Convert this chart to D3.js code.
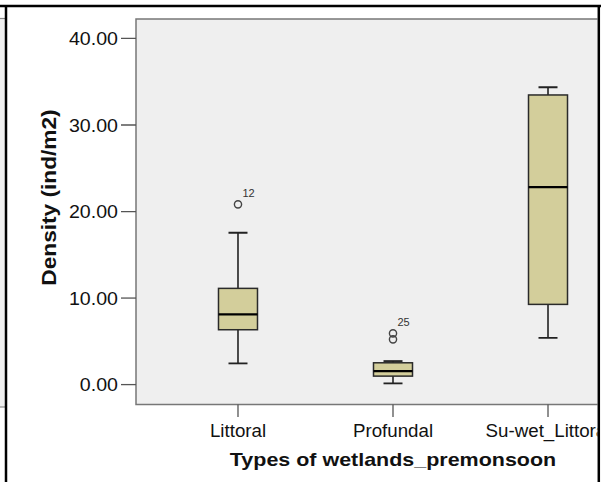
<!DOCTYPE html>
<html>
<head>
<meta charset="utf-8">
<script src="https://cdn.jsdelivr.net/npm/d3@7"></script>
<style>
  html, body { margin: 0; padding: 0; background: #fff; }
  svg { display: block; }
  text { font-family: "Liberation Sans", Arial, sans-serif; }
</style>
</head>
<body>
<svg id="chart" width="601" height="482"></svg>
<script>
// Density of benthic fauna by wetland type (premonsoon)
const categories   = ["Littoral", "Profundal", "Su-wet_Littoral"];
const whiskerLow   = [2.45, 0.14, 5.41];
const quartile1    = [6.34, 0.98, 9.27];
const medians      = [8.11, 1.56, 22.83];
const quartile3    = [11.12, 2.52, 33.47];
const whiskerHigh  = [17.55, 2.72, 34.36];
const outlierCats   = ["Littoral", "Profundal", "Profundal"];
const outlierValues = [20.83, 5.92, 5.23];
const outlierLabels = ["12", "25", ""];
const yTicks = [0, 10, 20, 30, 40];

const svg = d3.select("#chart");
const W = 601, H = 482;

// plot frame
const plot = { left: 136, top: 19, bottom: 404.5, right: 650 };

const y = d3.scaleLinear().domain([-2.3, 42.25]).range([plot.bottom, plot.top]);
const x = d3.scalePoint().domain(categories).range([plot.left, plot.right]).padding(0.658);

const boxW = 39, capW = 19;

// neighbouring panel edge at far left
svg.append("rect")
  .attr("x", -10).attr("y", 18.5).attr("width", 16).attr("height", 388.5)
  .attr("fill", "#efefef").attr("stroke", "#8a8a8a").attr("stroke-width", 1.2);

// clip for the plot, which runs past the right frame line
svg.append("defs").append("clipPath").attr("id", "frameClip")
  .append("rect").attr("x", 7).attr("y", 7).attr("width", 590.5).attr("height", H);

const g = svg.append("g").attr("clip-path", "url(#frameClip)");

g.append("rect")
  .attr("x", plot.left).attr("y", plot.top)
  .attr("width", plot.right - plot.left).attr("height", plot.bottom - plot.top)
  .attr("fill", "#efefef").attr("stroke", "#777").attr("stroke-width", 1.5);

// helper for horizontally stretched text
function label(parent, tx, ty, str, opts) {
  const t = parent.append("text")
    .attr("transform", `translate(${tx},${ty}) ${opts.rotate ? "rotate(-90) " : ""}scale(${opts.sx || 1},1)`)
    .attr("text-anchor", opts.anchor || "middle")
    .attr("font-size", opts.size)
    .attr("font-weight", opts.bold ? "bold" : "normal")
    .attr("fill", opts.fill || "#111")
    .text(str);
  return t;
}

// y axis ticks and labels
yTicks.forEach(v => {
  g.append("line")
    .attr("x1", plot.left - 15).attr("x2", plot.left)
    .attr("y1", y(v)).attr("y2", y(v))
    .attr("stroke", "#555").attr("stroke-width", 1.3);
  label(svg, plot.left - 18, y(v) + 6.6, d3.format(".2f")(v), { size: 18.5, sx: 1.06, anchor: "end" });
});

// x axis ticks and labels
categories.forEach(c => {
  g.append("line")
    .attr("x1", x(c)).attr("x2", x(c))
    .attr("y1", plot.bottom).attr("y2", plot.bottom + 12.5)
    .attr("stroke", "#555").attr("stroke-width", 1.3);
  label(g, x(c), 436.7, c, { size: 17.5, sx: 1.07 });
});

// boxes
categories.forEach((c, i) => {
  const cx = x(c);
  const bg = g.append("g");
  // whiskers
  bg.append("line").attr("x1", cx).attr("x2", cx)
    .attr("y1", y(whiskerHigh[i])).attr("y2", y(quartile3[i]))
    .attr("stroke", "#222").attr("stroke-width", 1.6);
  bg.append("line").attr("x1", cx).attr("x2", cx)
    .attr("y1", y(quartile1[i])).attr("y2", y(whiskerLow[i]))
    .attr("stroke", "#222").attr("stroke-width", 1.6);
  [whiskerHigh[i], whiskerLow[i]].forEach(v => {
    bg.append("line").attr("x1", cx - capW / 2).attr("x2", cx + capW / 2)
      .attr("y1", y(v)).attr("y2", y(v))
      .attr("stroke", "#222").attr("stroke-width", 1.8);
  });
  bg.append("rect")
    .attr("x", cx - boxW / 2).attr("y", y(quartile3[i]))
    .attr("width", boxW).attr("height", y(quartile1[i]) - y(quartile3[i]))
    .attr("fill", "#d3ce9b").attr("stroke", "#2a2a2a").attr("stroke-width", 1.5);
  bg.append("line")
    .attr("x1", cx - boxW / 2).attr("x2", cx + boxW / 2)
    .attr("y1", y(medians[i])).attr("y2", y(medians[i]))
    .attr("stroke", "#000").attr("stroke-width", 2.2);
});

// outliers
outlierValues.forEach((v, i) => {
  const cx = x(outlierCats[i]);
  g.append("circle")
    .attr("cx", cx).attr("cy", y(v)).attr("r", 3.6)
    .attr("fill", "none").attr("stroke", "#444").attr("stroke-width", 1.4);
  if (outlierLabels[i]) {
    label(g, cx + 4.5, y(v) - 7.5, outlierLabels[i], { size: 11, anchor: "start", fill: "#333" });
  }
});

// axis titles
label(svg, 393, 466, "Types of wetlands_premonsoon", { size: 19, sx: 1.13, bold: true });
label(svg, 56, 197.5, "Density (ind/m2)", { size: 21, sx: 1.08, bold: true, rotate: true });

// outer frame lines
svg.append("line").attr("x1", 0).attr("x2", W).attr("y1", 6).attr("y2", 6)
  .attr("stroke", "#000").attr("stroke-width", 2.5);
svg.append("line").attr("x1", 6).attr("x2", 6).attr("y1", 6).attr("y2", H)
  .attr("stroke", "#000").attr("stroke-width", 2.5);
svg.append("line").attr("x1", 598.8).attr("x2", 598.8).attr("y1", 6).attr("y2", H)
  .attr("stroke", "#000").attr("stroke-width", 2.5);
</script>
</body>
</html>
